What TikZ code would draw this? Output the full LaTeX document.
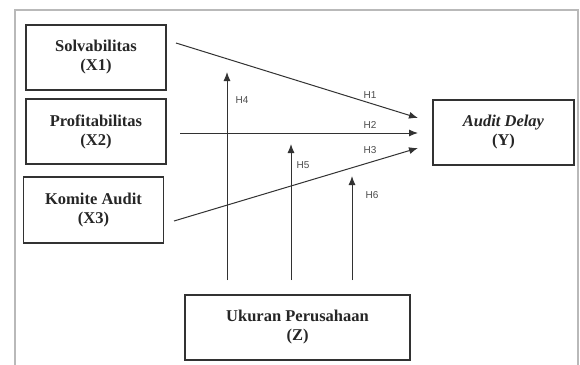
\documentclass[tikz,border=0pt]{standalone}
\usepackage{fontspec}
\setmainfont{Liberation Serif}
\newfontfamily\hfont{Liberation Sans}
\usetikzlibrary{arrows.meta}
\definecolor{linegray}{RGB}{50,50,50}
\definecolor{framegray}{RGB}{185,185,185}
\tikzset{
  varbox/.style={draw=linegray, line width=1.4pt, minimum width=#1, align=center,
    font=\fontsize{16.5}{19}\selectfont\bfseries, text=black!85, inner sep=0pt},
  varbox/.default=140pt,
  conn/.style={draw=linegray, line width=1pt, -{Latex[length=9pt,width=7pt]}},
  hlab/.style={font=\hfont\fontsize{10}{11}\selectfont, text=black!70, inner sep=0pt}
}
\begin{document}
\begin{tikzpicture}[x=1pt,y=-1pt]
\useasboundingbox (0,0) rectangle (580,364);
\fill[white] (0,0) rectangle (580,364);
\draw[framegray, line width=1.6pt] (15,10) rectangle (578,372);

\node[varbox, minimum height=65pt] (solv) at (96,57.5) {Solvabilitas\\(X1)};
\node[varbox, minimum height=65pt] (prof) at (96,131.5) {Profitabilitas\\(X2)};
\node[varbox, minimum height=66pt] (kom) at (93.5,210) {Komite Audit\\(X3)};
\node[varbox=141pt, minimum height=65pt] (ad) at (503.5,132.5) {\textit{Audit Delay}\\(Y)};
\node[varbox=225pt, minimum height=65pt] (uk) at (297.5,327.5) {Ukuran Perusahaan\\(Z)};

\coordinate (s1) at (176,43);
\coordinate (s2) at (180,133);
\coordinate (s3) at (174,221);
\coordinate (e1) at (418,118);
\coordinate (e2) at (418,133);
\coordinate (e3) at (418,148);
\coordinate (z4) at (227,280);
\coordinate (z5) at (291,280);
\coordinate (z6) at (352,280);
\coordinate (t4) at (227,72);
\coordinate (t5) at (291,144);
\coordinate (t6) at (352,176);

\draw[conn] (s1) -- (e1);
\draw[conn] (s2) -- (e2);
\draw[conn] (s3) -- (e3);
\draw[conn] (z4) -- (t4);
\draw[conn] (z5) -- (t5);
\draw[conn] (z6) -- (t6);

\node[hlab] (h1) at (370,95) {H1};
\node[hlab] (h2) at (370,125) {H2};
\node[hlab] (h3) at (370,150) {H3};
\node[hlab] (h4) at (242,100) {H4};
\node[hlab] (h5) at (303,165) {H5};
\node[hlab] (h6) at (372,195) {H6};
\end{tikzpicture}
\end{document}
